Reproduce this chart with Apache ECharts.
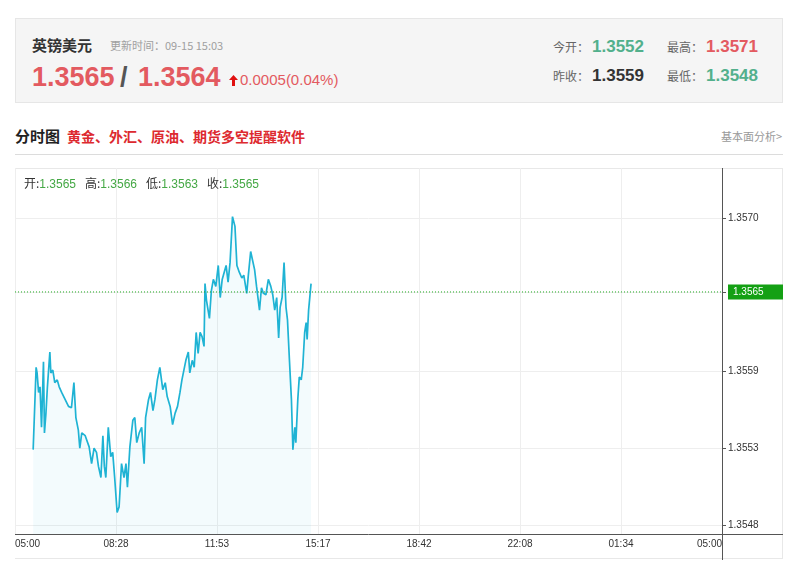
<!DOCTYPE html>
<html>
<head>
<meta charset="utf-8">
<script src="https://cdn.jsdelivr.net/npm/echarts@6/dist/echarts.min.js"></script>
<style>
  html, body { margin:0; padding:0; background:#fff; width:800px; height:568px; overflow:hidden;
    font-family: "Liberation Sans", Arial, "Noto Sans CJK SC", sans-serif; }
  .a { position:absolute; white-space:nowrap; }
  #head { position:absolute; left:15px; top:18px; width:766px; height:83px; background:#f5f5f5; border:1px solid #e6e6e6; }
  #frame { position:absolute; left:15px; top:168px; width:767px; height:389px; border:1px solid #e8e8e8; border-left:none; }
  #chart { position:absolute; left:15px; top:168px; width:768px; height:392px; }
  .cn { font-family: "Noto Sans CJK SC", sans-serif; }
</style>
</head>
<body>
<div id="head"></div>
<div class="a cn" style="left:32px;top:36px;line-height:18px;font-size:15px;font-weight:bold;color:#333;">英镑美元</div>
<div class="a cn" style="left:110px;top:37px;line-height:16px;font-size:11px;color:#a0a0a0;">更新时间：09-15 15:03</div>
<div class="a" style="left:32px;top:62px;line-height:30px;font-size:27px;font-weight:bold;color:#e35a60;">1.3565</div>
<div class="a" style="left:120px;top:62px;line-height:30px;font-size:27px;font-weight:bold;color:#555;">/</div>
<div class="a" style="left:138px;top:62px;line-height:30px;font-size:27px;font-weight:bold;color:#e35a60;">1.3564</div>
<svg class="a" style="left:229px;top:75px;" width="9" height="11" viewBox="0 0 9 11"><polygon points="4.5,0 9,5 6,5 6,11 3,11 3,5 0,5" fill="#e01010"/></svg>
<div class="a" style="left:240px;top:71px;line-height:18px;font-size:15px;color:#e35a60;">0.0005(0.04%)</div>

<div class="a cn" style="left:553px;top:38px;line-height:18px;font-size:12px;color:#666;">今开：</div>
<div class="a" style="left:592px;top:37px;line-height:20px;font-size:17px;font-weight:bold;color:#52b08c;">1.3552</div>
<div class="a cn" style="left:667px;top:38px;line-height:18px;font-size:12px;color:#666;">最高：</div>
<div class="a" style="left:706px;top:37px;line-height:20px;font-size:17px;font-weight:bold;color:#e35a60;">1.3571</div>
<div class="a cn" style="left:553px;top:67px;line-height:18px;font-size:12px;color:#666;">昨收：</div>
<div class="a" style="left:592px;top:66px;line-height:20px;font-size:17px;font-weight:bold;color:#333;">1.3559</div>
<div class="a cn" style="left:667px;top:67px;line-height:18px;font-size:12px;color:#666;">最低：</div>
<div class="a" style="left:706px;top:66px;line-height:20px;font-size:17px;font-weight:bold;color:#52b08c;">1.3548</div>

<div class="a cn" style="left:15px;top:126px;line-height:20px;font-size:15px;font-weight:bold;color:#222;">分时图</div>
<div class="a cn" style="left:67px;top:126px;line-height:20px;font-size:14px;font-weight:bold;color:#dd2a2f;">黄金、外汇、原油、期货多空提醒软件</div>
<div class="a cn" style="right:18px;top:128px;line-height:16px;font-size:11px;color:#999;">基本面分析&gt;</div>
<div class="a" style="left:15px;top:154px;width:768px;height:1px;background:#dcdcdc;"></div>

<div id="frame"></div>
<div id="chart"></div>

<div class="a" style="left:24px;top:175px;line-height:16px;font-size:12px;">
  <span class="cn" style="color:#333;">开:</span><span style="color:#45a845;">1.3565</span>
</div>
<div class="a" style="left:85px;top:175px;line-height:16px;font-size:12px;">
  <span class="cn" style="color:#333;">高:</span><span style="color:#45a845;">1.3566</span>
</div>
<div class="a" style="left:146px;top:175px;line-height:16px;font-size:12px;">
  <span class="cn" style="color:#333;">低:</span><span style="color:#45a845;">1.3563</span>
</div>
<div class="a" style="left:207px;top:175px;line-height:16px;font-size:12px;">
  <span class="cn" style="color:#333;">收:</span><span style="color:#45a845;">1.3565</span>
</div>

<script>
// ---- data ----
const times = ["05:37","05:43","05:45","05:48","05:51","05:54","05:58","06:00","06:03","06:06",
  "06:11","06:13","06:17","06:21","06:26","06:30","06:35","06:42","06:49","06:55",
  "07:00","07:04","07:09","07:12","07:16","07:23","07:27","07:31","07:36","07:41",
  "07:46","07:50","07:55","07:59","08:02","08:05","08:10","08:15","08:19","08:23",
  "08:28","08:32","08:37","08:42","08:46","08:49","08:54","09:00","09:04","09:08",
  "09:13","09:18","09:23","09:26","09:32","09:36","09:41","09:45","09:50","09:55",
  "10:01","10:06","10:10","10:16","10:21","10:26","10:31","10:36","10:40","10:44",
  "10:48","10:53","10:56","11:01","11:05","11:09","11:13","11:17","11:21","11:25",
  "11:27","11:30","11:36","11:40","11:44","11:49","11:54","11:58","12:02","12:06",
  "12:10","12:14","12:18","12:23","12:28","12:32","12:37","12:42","12:46","12:52",
  "12:55","13:00","13:04","13:08","13:12","13:18","13:22","13:26","13:31","13:36",
  "13:41","13:45","13:49","13:53","13:57","14:00","14:04","14:08","14:12","14:15",
  "14:19","14:23","14:26","14:30","14:32","14:36","14:39","14:43","14:46","14:50",
  "14:53","14:55","14:58","15:03"];
const prices = [1.35534,1.35593,1.35589,1.35575,1.35579,1.35550,1.35597,1.35546,1.35560,1.35579,
  1.35604,1.35589,1.35591,1.35582,1.35584,1.35579,1.35575,1.35570,1.35565,1.35564,
  1.35582,1.35557,1.35548,1.35535,1.35546,1.35544,1.35543,1.35536,1.35524,1.35535,
  1.35532,1.35522,1.35514,1.35544,1.35522,1.35514,1.35550,1.35529,1.35532,1.35514,
  1.35489,1.35493,1.35524,1.35514,1.35524,1.35507,1.35536,1.35555,1.35557,1.35539,
  1.35546,1.35550,1.35524,1.35557,1.35570,1.35575,1.35562,1.35570,1.35584,1.35593,
  1.35577,1.35582,1.35572,1.35565,1.35552,1.35560,1.35565,1.35575,1.35584,1.35591,
  1.35598,1.35604,1.35589,1.35598,1.35593,1.35618,1.35603,1.35618,1.35615,1.35608,
  1.35653,1.35641,1.35628,1.35648,1.35656,1.35651,1.35666,1.35643,1.35656,1.35656,
  1.35666,1.35654,1.35668,1.35701,1.35694,1.35666,1.35661,1.35657,1.35659,1.35646,
  1.35658,1.35676,1.35677,1.35663,1.35651,1.35634,1.35650,1.35646,1.35645,1.35656,
  1.35651,1.35645,1.35634,1.35643,1.35614,1.35636,1.35643,1.35668,1.35636,1.35627,
  1.35598,1.35570,1.35534,1.35550,1.35539,1.35570,1.35586,1.35584,1.35593,1.35618,
  1.35625,1.35613,1.35634,1.35653];
const lastPrice = 1.35647;
const xTickLabels = ["05:00","08:28","11:53","15:17","18:42","22:08","01:34","05:00"];
const yTickValues = [1.3548, 1.35535, 1.3559, lastPrice, 1.3570];
const yTickLabels = ["1.3548","1.3553","1.3559","1.3565","1.3570"];
const dayMinutes = 1440;
const yMin = 1.3547355, yMax = 1.3573583;

// ---- build ----
function toMin(t) {
  const p = t.split(":");
  let m = (+p[0]) * 60 + (+p[1]) - 300;
  if (m < 0) m += 1440;
  return m;
}
const seriesData = times.map((t, i) => [toMin(t), prices[i]]);
const step = dayMinutes / (xTickLabels.length - 1);
const xTickValues = xTickLabels.map((_, i) => i * step);
const lastLine = [[0, lastPrice], [dayMinutes, lastPrice]];

const chart = echarts.init(document.getElementById('chart'), null, {renderer: 'canvas'});
const fam = '"Liberation Sans", Arial, sans-serif';
chart.setOption({
  animation: false,
  grid: { left: 0, top: 0, width: 707, height: 366, containLabel: false, outerBoundsMode: 'none' },
  xAxis: {
    type: 'value', min: 0, max: dayMinutes,
    axisLine: { show: true, onZero: false, lineStyle: { color: '#555', width: 1 } },
    axisTick: { show: false, customValues: xTickValues },
    splitLine: { show: true, lineStyle: { color: '#eeeeee', width: 1 } },
    axisLabel: {
      color: '#333', fontSize: 10, fontFamily: fam,
      customValues: xTickValues, margin: 5,
      alignMinLabel: 'left', alignMaxLabel: 'right',
      formatter: v => xTickLabels[Math.round(v / step)]
    }
  },
  yAxis: {
    type: 'value', position: 'right', min: yMin, max: yMax,
    axisLine: { show: true, onZero: false, lineStyle: { color: '#555', width: 1 } },
    axisTick: { show: true, length: 4, customValues: yTickValues, lineStyle: { color: '#555' } },
    splitLine: { show: true, lineStyle: { color: '#eeeeee', width: 1 } },
    axisLabel: {
      color: '#333', fontSize: 10, fontFamily: fam,
      customValues: yTickValues, margin: 6,
      formatter: v => {
        let bi = 0, bd = 1;
        yTickValues.forEach((t, i) => { const d = Math.abs(t - v); if (d < bd) { bd = d; bi = i; } });
        return yTickValues[bi] === lastPrice ? '{hl|' + yTickLabels[bi] + '}' : yTickLabels[bi];
      },
      rich: {
        hl: { color: '#fff', fontSize: 10, fontFamily: fam, backgroundColor: '#14a014', padding: [3, 24, 2, 5] }
      }
    }
  },
  series: [{
    type: 'line',
    data: seriesData,
    showSymbol: false,
    symbol: 'none',
    lineStyle: { color: '#1fb3d4', width: 1.7 },
    areaStyle: { color: 'rgba(30,178,211,0.08)', origin: 'start' },
    z: 3
  }, {
    type: 'line',
    data: lastLine,
    showSymbol: false,
    symbol: 'none',
    silent: true,
    lineStyle: { color: '#1faa1f', type: [1, 2], width: 1 },
    z: 4
  }],
  graphic: [
    { type: 'line', shape: { x1: 707.5, y1: 366, x2: 707.5, y2: 392 }, style: { stroke: '#555', lineWidth: 1 } },
    { type: 'line', shape: { x1: 707, y1: 366.5, x2: 768, y2: 366.5 }, style: { stroke: '#555', lineWidth: 1 } }
  ]
});
</script>
</body>
</html>
